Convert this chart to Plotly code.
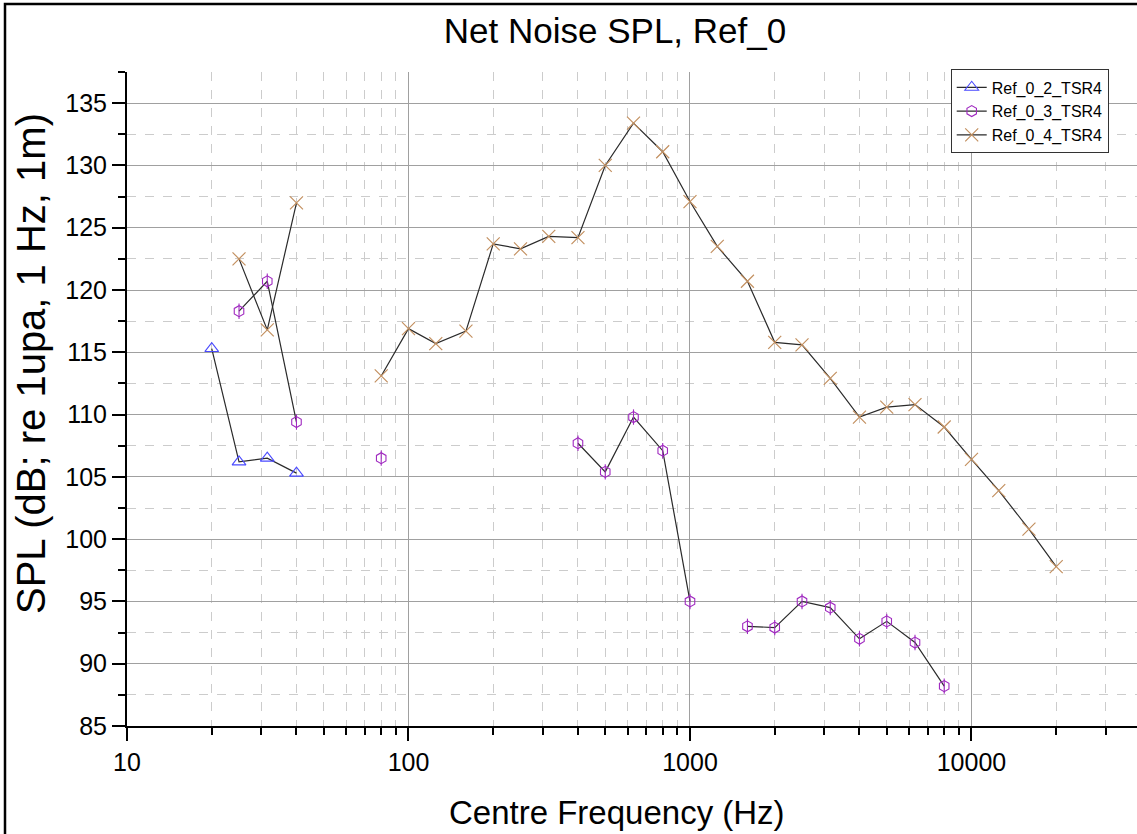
import plotly.graph_objects as go

# One-third octave band centre frequencies (Hz)
freq = [20, 25, 31.5, 40, 50, 63, 80, 100, 125, 160, 200, 250, 315, 400, 500,
        630, 800, 1000, 1250, 1600, 2000, 2500, 3150, 4000, 5000, 6300, 8000,
        10000, 12500, 16000, 20000]

# Net noise SPL per band (dB re 1 uPa, 1 Hz, 1 m); None = no valid band level
spl_ref_0_2 = [115.3, 106.2, 106.5, 105.3, None, None, None, None, None, None,
               None, None, None, None, None, None, None, None, None, None,
               None, None, None, None, None, None, None, None, None, None, None]
spl_ref_0_3 = [None, 118.3, 120.7, 109.4, None, None, 106.5, None, None, None,
               None, None, None, 107.7, 105.4, 109.8, 107.1, 95.0, None, 93.0,
               92.9, 95.0, 94.5, 92.0, 93.4, 91.7, 88.2, None, None, None, None]
spl_ref_0_4 = [None, 122.5, 116.8, 127.0, None, None, 113.1, 116.9, 115.7, 116.7,
               123.7, 123.3, 124.3, 124.2, 130.0, 133.4, 131.1, 127.1, 123.5, 120.7,
               115.8, 115.6, 112.9, 109.8, 110.6, 110.8, 109.0, 106.4, 103.9, 100.8, 97.8]

series_names = ["Ref_0_2_TSR4", "Ref_0_3_TSR4", "Ref_0_4_TSR4"]

x_tick_vals = [10, 100, 1000, 10000]
x_tick_text = ["10", "100", "1000", "10000"]
y_tick_vals = [85, 90, 95, 100, 105, 110, 115, 120, 125, 130, 135]

LINE = dict(color="#2a2a2a", width=1.2)
FONT = "Arial, Liberation Sans, sans-serif"

fig = go.Figure()

fig.add_trace(go.Scatter(
    x=freq, y=spl_ref_0_2, name=series_names[0], mode="lines+markers",
    line=LINE, connectgaps=False,
    marker=dict(symbol="triangle-up-open", size=12, color="#4a4aff",
                line=dict(width=1.1, color="#4a4aff")),
))
fig.add_trace(go.Scatter(
    x=freq, y=spl_ref_0_3, name=series_names[1], mode="lines+markers",
    line=LINE, connectgaps=False,
    marker=dict(symbol="hexagon-open", size=11, color="#a02ac0",
                line=dict(width=1.1, color="#a02ac0")),
))
# vertical bar through the purple markers
fig.add_trace(go.Scatter(
    x=freq, y=spl_ref_0_3, mode="markers", showlegend=False, hoverinfo="skip",
    marker=dict(symbol="line-ns-open", size=11, color="#a02ac0",
                line=dict(width=1.1, color="#a02ac0")),
))
fig.add_trace(go.Scatter(
    x=freq, y=spl_ref_0_4, name=series_names[2], mode="lines+markers",
    line=LINE, connectgaps=False,
    marker=dict(symbol="x-thin-open", size=13, color="#c39060",
                line=dict(width=1.2, color="#c39060")),
))

minor_x = [m * d for d in (10, 100, 1000, 10000) for m in range(2, 10)]

fig.update_xaxes(
    type="log", range=[1, 4.588],
    tickmode="array", tickvals=x_tick_vals, ticktext=x_tick_text,
    ticks="outside", ticklen=13, tickwidth=2, tickcolor="black",
    showline=True, linecolor="black", linewidth=2, mirror=False,
    showgrid=True, gridcolor="#a0a0a0", gridwidth=1,
    tickfont=dict(family=FONT, size=25, color="black"),
    zeroline=False,
    minor=dict(tickmode="array", tickvals=minor_x, ticks="outside", ticklen=7,
               tickwidth=2, tickcolor="black", showgrid=True,
               gridcolor="#cccccc", griddash="dash", gridwidth=1),
)
fig.update_yaxes(
    range=[85, 137.5], tickmode="array", tickvals=y_tick_vals,
    ticks="outside", ticklen=13, tickwidth=2, tickcolor="black",
    showline=True, linecolor="black", linewidth=2, mirror=False,
    showgrid=True, gridcolor="#a0a0a0", gridwidth=1,
    tickfont=dict(family=FONT, size=25, color="black"),
    zeroline=False,
    minor=dict(dtick=2.5, ticks="outside", ticklen=7, tickwidth=2,
               tickcolor="black", showgrid=True, gridcolor="#cccccc",
               griddash="dash", gridwidth=1),
)

fig.update_layout(
    width=1137, height=834,
    margin=dict(l=127, r=0, t=72, b=108),
    paper_bgcolor="white", plot_bgcolor="white",
    font=dict(family=FONT, color="black"),
    title=dict(text="Net Noise SPL, Ref_0", font=dict(family=FONT, size=35, color="black"),
               x=615 / 1137, xanchor="center", xref="container",
               y=1 - 31 / 834, yanchor="middle", yref="container"),
    showlegend=True,
    legend=dict(x=0.972, xanchor="right", y=1.004, yanchor="top",
                bgcolor="white", bordercolor="#333333", borderwidth=1,
                font=dict(family=FONT, size=16, color="black"),
                tracegroupgap=0, itemwidth=30),
    annotations=[
        dict(text="Centre Frequency (Hz)", xref="paper", yref="paper",
             x=(617 - 127) / 1010, y=(726 - 812) / 654, xanchor="center",
             yanchor="middle", showarrow=False,
             font=dict(family=FONT, size=33, color="black")),
        dict(text="SPL (dB; re 1upa, 1 Hz, 1m)", xref="paper", yref="paper",
             x=(31 - 127) / 1010, y=(726 - 364) / 654, xanchor="center",
             yanchor="middle", textangle=-90, showarrow=False,
             font=dict(family=FONT, size=40, color="black")),
    ],
    shapes=[
        dict(type="rect", xref="paper", yref="paper",
             x0=(5 - 127) / 1010, x1=1.2, y0=-0.4, y1=(726 - 4) / 654,
             line=dict(color="black", width=2.5), fillcolor="rgba(0,0,0,0)",
             layer="above"),
    ],
)

fig.write_html("out.html")
